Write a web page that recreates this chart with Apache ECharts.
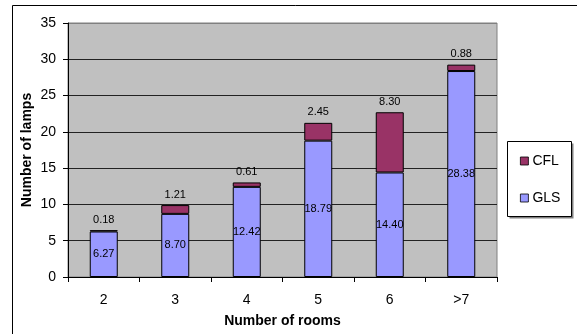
<!DOCTYPE html>
<html>
<head>
<meta charset="utf-8">
<script src="https://cdn.jsdelivr.net/npm/echarts@6/dist/echarts.min.js"></script>
<style>
  html, body { margin: 0; padding: 0; background: #fff; }
  #chart { width: 577px; height: 334px; }
</style>
</head>
<body>
<div id="chart"></div>
<script>
// Lamps per household, split by lamp type, for each household size
const rooms = ['2', '3', '4', '5', '6', '>7'];
const glsLamps = [6.27, 8.70, 12.42, 18.79, 14.40, 28.38];
const cflLamps = [0.18, 1.21, 0.61, 2.45, 8.30, 0.88];
const yTicks = [0, 5, 10, 15, 20, 25, 30, 35];

const FONT = '"Liberation Sans", Arial, sans-serif';

const chart = echarts.init(document.getElementById('chart'), null, { renderer: 'canvas' });

chart.setOption({
  animation: false,
  backgroundColor: '#fff',
  textStyle: { fontFamily: FONT },
  graphic: [
    // frame round the whole figure
    {
      type: 'rect', z: -10, silent: true,
      shape: { x: 12.5, y: 5.5, width: 600, height: 400 },
      style: { fill: '#fff', stroke: '#000', lineWidth: 1 }
    },
    // legend box with drop shadow
    {
      type: 'rect', z: 1, silent: true,
      shape: { x: 509.5, y: 143.5, width: 64, height: 75 },
      style: { fill: '#808080', stroke: null }
    },
    {
      type: 'rect', z: 2, silent: true,
      shape: { x: 507.5, y: 141.5, width: 64, height: 75 },
      style: { fill: '#fff', stroke: '#000', lineWidth: 1 }
    }
  ],
  legend: {
    orient: 'vertical',
    left: 520,
    top: 154,
    z: 5,
    itemWidth: 8,
    itemHeight: 8,
    itemGap: 23,
    padding: 0,
    textStyle: { fontFamily: FONT, fontSize: 14, color: '#000', padding: [0, 0, 0, -1] },
    data: [
      { name: 'CFL', icon: 'rect', itemStyle: { borderColor: '#000', borderWidth: 0.8 } },
      { name: 'GLS', icon: 'rect', itemStyle: { borderColor: '#000', borderWidth: 0.8 } }
    ]
  },
  grid: {
    left: 68, right: 80, top: 23, bottom: 57,
    show: true,
    backgroundColor: '#c0c0c0',
    borderColor: '#808080',
    borderWidth: 1
  },
  xAxis: {
    type: 'category',
    data: rooms,
    name: 'Number of rooms',
    nameLocation: 'middle',
    nameGap: 37,
    nameMoveOverlap: false,
    nameTextStyle: { fontFamily: FONT, fontSize: 14, fontWeight: 'bold', color: '#000' },
    axisLine: { lineStyle: { color: '#000', width: 1 } },
    axisTick: { show: true, length: 5, alignWithLabel: false, lineStyle: { color: '#000' } },
    axisLabel: { fontFamily: FONT, fontSize: 14, color: '#000', margin: 16 }
  },
  yAxis: {
    type: 'value',
    min: yTicks[0],
    max: yTicks[yTicks.length - 1],
    interval: yTicks[1] - yTicks[0],
    name: 'Number of lamps',
    nameLocation: 'middle',
    nameGap: 34,
    nameMoveOverlap: false,
    nameTextStyle: { fontFamily: FONT, fontSize: 14, fontWeight: 'bold', color: '#000' },
    axisLine: { show: true, lineStyle: { color: '#000', width: 1 } },
    axisTick: { show: true, length: 5, lineStyle: { color: '#000' } },
    axisLabel: { fontFamily: FONT, fontSize: 14, color: '#000', margin: 12 },
    splitLine: {
      show: true,
      lineStyle: {
        color: ['#000', '#222', '#222', '#222', '#222', '#222', '#222', '#808080'],
        width: 1
      }
    }
  },
  series: [
    {
      name: 'GLS',
      type: 'bar',
      stack: 'lamps',
      barWidth: 28,
      data: glsLamps,
      itemStyle: { color: '#9999ff', borderColor: '#000', borderWidth: 1 },
      label: {
        show: true,
        position: 'inside',
        fontFamily: FONT,
        fontSize: 11,
        color: '#000',
        formatter: p => p.value.toFixed(2)
      }
    },
    {
      name: 'CFL',
      type: 'bar',
      stack: 'lamps',
      barWidth: 28,
      data: cflLamps,
      itemStyle: { color: '#993366', borderColor: '#000', borderWidth: 1 },
      label: {
        show: true,
        position: 'top',
        distance: 5,
        fontFamily: FONT,
        fontSize: 11,
        color: '#000',
        formatter: p => p.value.toFixed(2)
      }
    }
  ]
});
</script>
</body>
</html>
